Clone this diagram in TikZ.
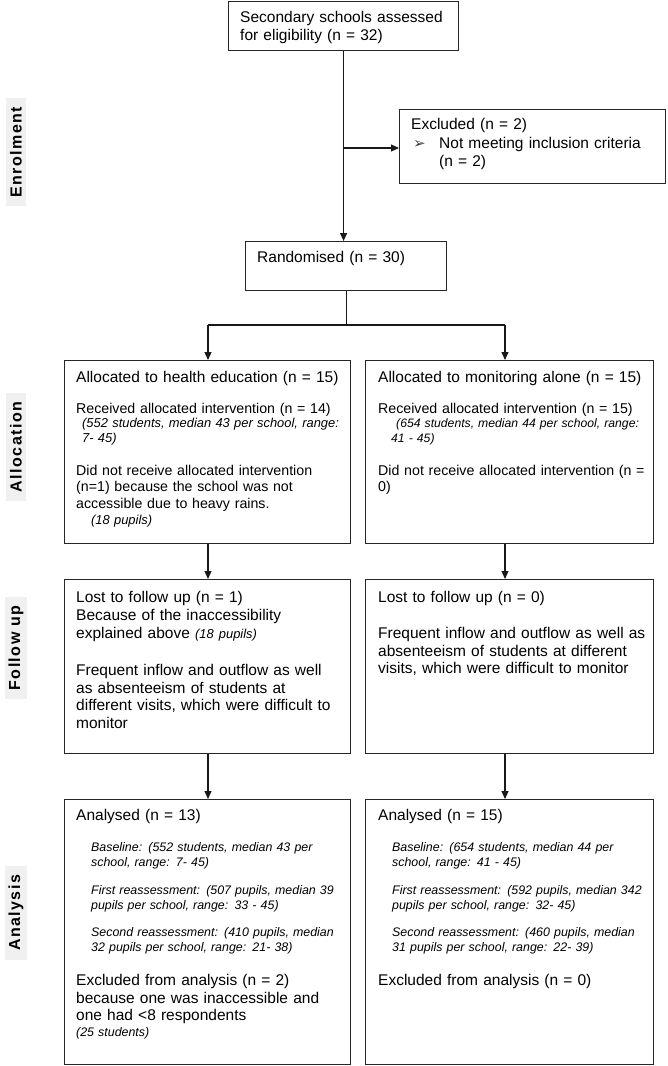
\documentclass[tikz,border=0pt]{standalone}
\usepackage{fontspec}
\setmainfont{Liberation Sans}
\newfontfamily\symfont{DejaVu Sans}
\usetikzlibrary{arrows.meta}
\newcommand\bigtxt{\fontsize{15.5}{17.5}\selectfont}
\newcommand\medtxt{\fontsize{14.2}{16.5}\selectfont}
\newcommand\smltxt{\fontsize{12.9}{15}\selectfont\itshape}
\newcommand\anltxt{\fontsize{12.4}{15}\selectfont\itshape}
\tikzset{
  box/.style={draw=black!85, line width=1.1pt, inner sep=0pt, anchor=north west},
  txt/.style={anchor=base west, inner sep=0pt, align=left, text width=300pt},
  arr/.style={draw=black!90, line width=1.1pt, -{Triangle[length=8pt,width=7pt]}},
  con/.style={draw=black!90, line width=1.1pt},
  side/.style={rotate=90, fill=black!6, inner xsep=9pt, inner ysep=4pt,
    font=\fontsize{16}{17}\selectfont\bfseries\addfontfeature{LetterSpace=9}}
}
\begin{document}
\begin{tikzpicture}[x=1pt,y=-1pt]
  \useasboundingbox (0,0) rectangle (667,1066);

  % side labels
  \node[side] (labEnrol) at (16,152) {Enrolment};
  \node[side] (labAlloc) at (16,447) {Allocation};
  \node[side] (labFollow) at (16,648) {Follow up};
  \node[side] (labAnalysis) at (16,913) {Analysis};

  % enrolment
  \node[box, minimum width=230pt, minimum height=49pt] (elig) at (228,1) {};
  \node[txt, font=\bigtxt] (eligT) at (240,22.5) {Secondary schools assessed\\for eligibility (n = 32)};

  \node[box, minimum width=266pt, minimum height=74pt] (excl) at (399,109) {};
  \node[txt, font=\bigtxt] (exclT) at (411,129.5) {Excluded (n = 2)};
  \node[txt, text width=20pt, font=\symfont\fontsize{15}{16}\selectfont, text=black!75] (exclB) at (413,148.5) {➢};
  \node[txt, font=\bigtxt] (exclR) at (439,148.5) {Not meeting inclusion criteria\\(n = 2)};

  \node[box, minimum width=201pt, minimum height=49pt] (rand) at (245,241) {};
  \node[txt, font=\bigtxt] (randT) at (257,262.5) {Randomised (n = 30)};

  \draw[arr] (elig.south) -- (elig.south |- rand.north);
  \draw[arr] (elig.south |- 0,148) -- (excl.west |- 0,148);

  \coordinate (sl) at (208,325);
  \coordinate (sr) at (505,325);
  \draw[con] (rand.south) -- (rand.south |- sl);
  \draw[con] (sl) -- (sr);

  % allocation
  \node[box, minimum width=286pt, minimum height=183pt] (allocA) at (64,360) {};
  \node[box, minimum width=288pt, minimum height=183pt] (allocB) at (365,360) {};
  \draw[arr] (sl) -- (sl |- allocA.north);
  \draw[arr] (sr) -- (sr |- allocB.north);

  \node[txt, font=\bigtxt] (allocAH) at (76,382.5) {Allocated to health education (n = 15)};
  \node[txt, font=\medtxt] (allocAR) at (76,413) {Received allocated intervention (n = 14)};
  \node[txt, font=\smltxt] (allocAS) at (82,427.5) {(552 students, median 43 per school, range:\\7- 45)};
  \node[txt, font=\medtxt] (allocAN) at (76,475) {Did not receive allocated intervention\\(n=1) because the school was not\\accessible due to heavy rains.};
  \node[txt, font=\smltxt] (allocAP) at (91,524.5) {(18 pupils)};

  \node[txt, font=\bigtxt] (allocBH) at (378,382.5) {Allocated to monitoring alone (n = 15)};
  \node[txt, font=\medtxt] (allocBR) at (378,413) {Received allocated intervention (n = 15)};
  \node[txt, font=\fontsize{12.2}{15}\selectfont\itshape] (allocBS) at (391,427.5) {\hspace*{5pt}(654 students, median 44 per school, range:\\41 - 45)};
  \node[txt, font=\medtxt] (allocBN) at (378,475) {Did not receive allocated intervention (n =\\0)};

  % follow up
  \node[box, minimum width=286pt, minimum height=174pt] (fuA) at (64,579) {};
  \node[box, minimum width=288pt, minimum height=174pt] (fuB) at (365,579) {};
  \draw[arr] (sl |- allocA.south) -- (sl |- fuA.north);
  \draw[arr] (sr |- allocB.south) -- (sr |- fuB.north);

  \node[txt, font=\fontsize{15.5}{18}\selectfont] (fuAL) at (76,602.5) {Lost to follow up (n = 1)\\Because of the inaccessibility\\explained above {\smltxt (18 pupils)}};
  \node[txt, font=\bigtxt] (fuAF) at (76,675.5) {Frequent inflow and outflow as well\\as absenteeism of students at\\different visits, which were difficult to\\monitor};

  \node[txt, font=\bigtxt] (fuBL) at (378,602.5) {Lost to follow up (n = 0)};
  \node[txt, font=\bigtxt] (fuBF) at (378,638.5) {Frequent inflow and outflow as well as\\absenteeism of students at different\\visits, which were difficult to monitor};

  % analysis
  \node[box, minimum width=286pt, minimum height=265pt] (anA) at (64,799) {};
  \node[box, minimum width=288pt, minimum height=265pt] (anB) at (365,799) {};
  \draw[arr] (sl |- fuA.south) -- (sl |- anA.north);
  \draw[arr] (sr |- fuB.south) -- (sr |- anB.north);

  \node[txt, font=\bigtxt] (anAH) at (76,820.5) {Analysed (n = 13)};
  \node[txt, font=\anltxt] (anA1) at (91,851.5) {Baseline: (552 students, median 43 per\\school, range: 7- 45)};
  \node[txt, font=\anltxt] (anA2) at (91,894.5) {First reassessment: (507 pupils, median 39\\pupils per school, range: 33 - 45)};
  \node[txt, font=\anltxt] (anA3) at (91,936.5) {Second reassessment: (410 pupils, median\\32 pupils per school, range: 21- 38)};
  \node[txt, font=\bigtxt] (anAX) at (76,985.5) {Excluded from analysis (n = 2)\\because one was inaccessible and\\one had <8 respondents};
  \node[txt, font=\anltxt] (anAP) at (76,1036.5) {(25 students)};

  \node[txt, font=\bigtxt] (anBH) at (378,820.5) {Analysed (n = 15)};
  \node[txt, font=\anltxt] (anB1) at (392,851.5) {Baseline: (654 students, median 44 per\\school, range: 41 - 45)};
  \node[txt, font=\anltxt] (anB2) at (392,894.5) {First reassessment: (592 pupils, median 342\\pupils per school, range: 32- 45)};
  \node[txt, font=\anltxt] (anB3) at (392,936.5) {Second reassessment: (460 pupils, median\\31 pupils per school, range: 22- 39)};
  \node[txt, font=\bigtxt] (anBX) at (378,985.5) {Excluded from analysis (n = 0)};
\end{tikzpicture}
\end{document}
